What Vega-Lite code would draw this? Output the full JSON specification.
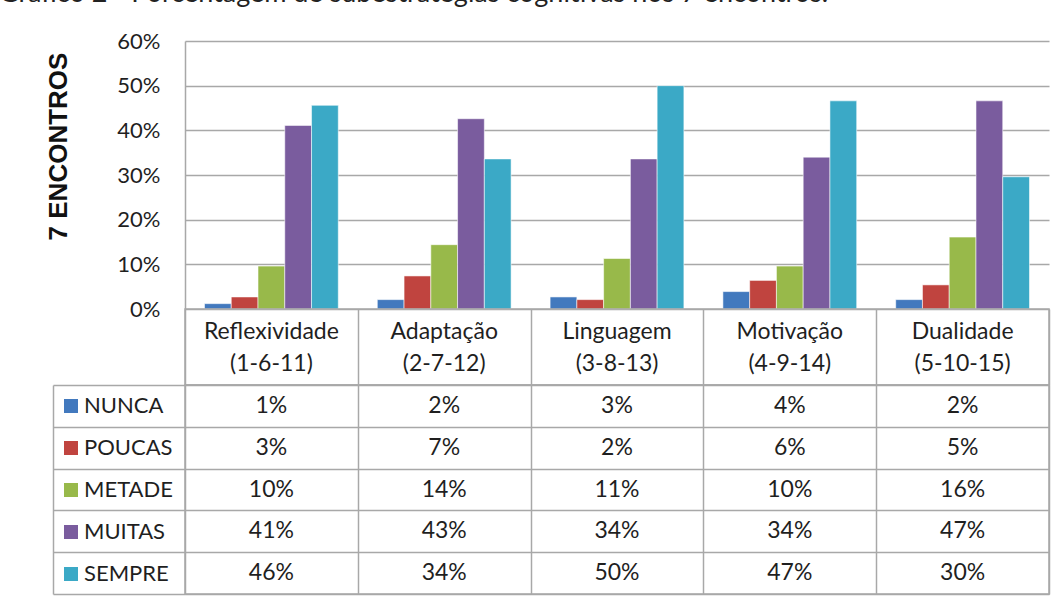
{
  "$schema": "https://vega.github.io/schema/vega-lite/v6.json",
  "autosize": {"type": "none"},
  "padding": {"left": 185, "top": 41, "right": 879, "bottom": 560},
  "background": "white",
  "title": {
    "text": "Gráfico 2 - Porcentagem de subestratégias cognitivas nos 7 encontros.",
    "anchor": "start", "frame": "group", "dx": -186, "dy": -22, "offset": 0,
    "fontSize": 27, "font": "Lato", "fontWeight": "normal", "color": "#222222"
  },
  "config": {"font": "Lato", "view": {"stroke": null}},
  "bounds": "flush",
  "spacing": 0,
  "datasets": {
    "d": [
      {"cat": "Reflexividade\n(1-6-11)", "serie": "NUNCA", "v": 0.012},
      {"cat": "Reflexividade\n(1-6-11)", "serie": "POUCAS", "v": 0.027},
      {"cat": "Reflexividade\n(1-6-11)", "serie": "METADE", "v": 0.096},
      {"cat": "Reflexividade\n(1-6-11)", "serie": "MUITAS", "v": 0.411},
      {"cat": "Reflexividade\n(1-6-11)", "serie": "SEMPRE", "v": 0.456},
      {"cat": "Adaptação\n(2-7-12)", "serie": "NUNCA", "v": 0.021},
      {"cat": "Adaptação\n(2-7-12)", "serie": "POUCAS", "v": 0.074},
      {"cat": "Adaptação\n(2-7-12)", "serie": "METADE", "v": 0.144},
      {"cat": "Adaptação\n(2-7-12)", "serie": "MUITAS", "v": 0.426},
      {"cat": "Adaptação\n(2-7-12)", "serie": "SEMPRE", "v": 0.336},
      {"cat": "Linguagem\n(3-8-13)", "serie": "NUNCA", "v": 0.027},
      {"cat": "Linguagem\n(3-8-13)", "serie": "POUCAS", "v": 0.021},
      {"cat": "Linguagem\n(3-8-13)", "serie": "METADE", "v": 0.113},
      {"cat": "Linguagem\n(3-8-13)", "serie": "MUITAS", "v": 0.336},
      {"cat": "Linguagem\n(3-8-13)", "serie": "SEMPRE", "v": 0.5},
      {"cat": "Motivação\n(4-9-14)", "serie": "NUNCA", "v": 0.039},
      {"cat": "Motivação\n(4-9-14)", "serie": "POUCAS", "v": 0.064},
      {"cat": "Motivação\n(4-9-14)", "serie": "METADE", "v": 0.096},
      {"cat": "Motivação\n(4-9-14)", "serie": "MUITAS", "v": 0.34},
      {"cat": "Motivação\n(4-9-14)", "serie": "SEMPRE", "v": 0.466},
      {"cat": "Dualidade\n(5-10-15)", "serie": "NUNCA", "v": 0.021},
      {"cat": "Dualidade\n(5-10-15)", "serie": "POUCAS", "v": 0.054},
      {"cat": "Dualidade\n(5-10-15)", "serie": "METADE", "v": 0.161},
      {"cat": "Dualidade\n(5-10-15)", "serie": "MUITAS", "v": 0.466},
      {"cat": "Dualidade\n(5-10-15)", "serie": "SEMPRE", "v": 0.296}
    ]
  },
  "vconcat": [
    {
      "width": 864, "height": 268,
      "data": {"name": "d"},
      "mark": {"type": "bar", "stroke": "white", "strokeWidth": 1, "strokeOpacity": 0.55},
      "encoding": {
        "x": {"field": "cat", "type": "nominal",
              "sort": ["Reflexividade\n(1-6-11)", "Adaptação\n(2-7-12)", "Linguagem\n(3-8-13)", "Motivação\n(4-9-14)", "Dualidade\n(5-10-15)"],
              "scale": {"paddingInner": 0.2257, "paddingOuter": 0.1128}, "axis": null},
        "xOffset": {"field": "serie", "type": "nominal",
              "sort": ["NUNCA", "POUCAS", "METADE", "MUITAS", "SEMPRE"],
              "scale": {"paddingInner": 0, "paddingOuter": 0}},
        "y": {"field": "v", "type": "quantitative",
              "scale": {"domain": [0, 0.6], "nice": false},
              "axis": {"format": ".0%", "values": [0, 0.1, 0.2, 0.3, 0.4, 0.5, 0.6],
                       "grid": true, "gridColor": "#a8a8a8", "gridWidth": 1.5,
                       "domain": true, "domainColor": "#a8a8a8", "domainWidth": 1.5,
                       "ticks": false, "tickSize": 0, "labelPadding": 25,
                       "labelFont": "Lato", "labelFontSize": 22, "labelColor": "#1f1f1f",
                       "title": "7 ENCONTROS", "titleFont": "Liberation Sans", "titleFontSize": 26,
                       "titleFontWeight": "bold", "titleColor": "#111111",
                       "titleX": -119, "titleY": 105, "titleBaseline": "alphabetic", "titleAlign": "center"}},
        "color": {"field": "serie", "type": "nominal",
              "sort": ["NUNCA", "POUCAS", "METADE", "MUITAS", "SEMPRE"],
              "scale": {"domain": ["NUNCA", "POUCAS", "METADE", "MUITAS", "SEMPRE"],
                        "range": ["#4279BE", "#C0443F", "#98B94A", "#7A5C9E", "#3BA9C6"]},
              "legend": {"orient": "none", "legendX": -125, "legendY": 354, "title": null,
                         "symbolType": "square", "symbolSize": 196, "symbolStrokeWidth": 0,
                         "symbolOpacity": 1, "labelFont": "Lato", "labelFontSize": 22,
                         "labelColor": "#1f1f1f", "labelOffset": 2, "rowPadding": 20, "padding": 0}}
      }
    },
    {
      "width": 864, "height": 76,
      "data": {"name": "d"},
      "transform": [{"filter": "datum.serie === 'NUNCA'"}],
      "mark": {"type": "text", "lineBreak": "\n", "lineHeight": 32, "fontSize": 23, "font": "Lato", "color": "#1f1f1f", "baseline": "middle", "dy": -15},
      "encoding": {
        "x": {"field": "cat", "type": "nominal",
              "sort": ["Reflexividade\n(1-6-11)", "Adaptação\n(2-7-12)", "Linguagem\n(3-8-13)", "Motivação\n(4-9-14)", "Dualidade\n(5-10-15)"],
              "scale": {"paddingInner": 0, "paddingOuter": 0},
              "axis": {"grid": true, "tickBand": "extent", "labels": false, "ticks": false, "domain": false, "title": null, "gridColor": "#a8a8a8", "gridWidth": 1.5}},
        "text": {"field": "cat"}
      },
      "view": {"stroke": "#a8a8a8", "strokeWidth": 1.5}
    },
    {
      "width": 864, "height": 209,
      "data": {"name": "d"},
      "mark": {"type": "text", "fontSize": 23, "font": "Lato", "color": "#1f1f1f", "baseline": "middle"},
      "encoding": {
        "x": {"field": "cat", "type": "nominal",
              "sort": ["Reflexividade\n(1-6-11)", "Adaptação\n(2-7-12)", "Linguagem\n(3-8-13)", "Motivação\n(4-9-14)", "Dualidade\n(5-10-15)"],
              "scale": {"paddingInner": 0, "paddingOuter": 0},
              "axis": {"grid": true, "tickBand": "extent", "labels": false, "ticks": false, "domain": false, "title": null, "gridColor": "#a8a8a8", "gridWidth": 1.5}},
        "y": {"field": "serie", "type": "nominal",
              "sort": ["NUNCA", "POUCAS", "METADE", "MUITAS", "SEMPRE"],
              "scale": {"paddingInner": 0, "paddingOuter": 0},
              "axis": {"orient": "left", "offset": 132, "tickSize": -132, "tickBand": "extent",
                       "ticks": true, "tickColor": "#a8a8a8", "tickWidth": 1.5,
                       "domain": true, "domainColor": "#a8a8a8", "domainWidth": 1.5,
                       "labels": false, "grid": true, "gridColor": "#a8a8a8", "gridWidth": 1.5, "title": null}},
        "text": {"field": "v", "type": "quantitative", "format": ".0%"}
      },
      "view": {"stroke": "#a8a8a8", "strokeWidth": 1.5}
    }
  ]
}
